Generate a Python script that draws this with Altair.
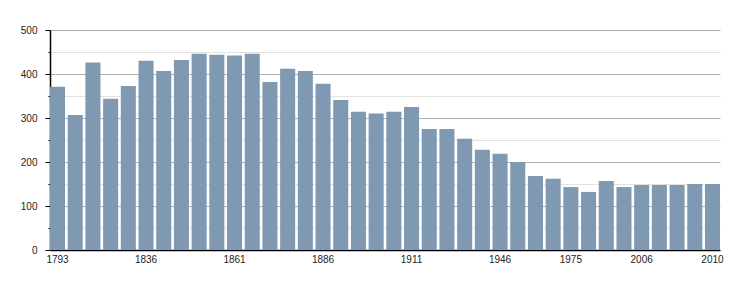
import altair as alt
import pandas as pd

years = ["1793", "1800", "1806", "1821", "1831", "1836", "1841", "1846", "1851", "1856",
         "1861", "1866", "1872", "1876", "1881", "1886", "1891", "1896", "1901", "1906",
         "1911", "1921", "1926", "1931", "1936", "1946", "1954", "1962", "1968", "1975",
         "1982", "1990", "1999", "2006", "2007", "2008", "2009", "2010"]
population = [371, 307, 426, 344, 373, 430, 407, 432, 446, 444,
              442, 446, 382, 412, 407, 378, 341, 314, 310, 314,
              325, 275, 275, 253, 228, 219, 200, 168, 162, 143,
              132, 157, 143, 148, 148, 148, 150, 150]
shown_years = ["1793", "1836", "1861", "1886", "1911", "1946", "1975", "2006", "2010"]
y_ticks = [0, 50, 100, 150, 200, 250, 300, 350, 400, 450, 500]

df = pd.DataFrame({"year": years, "pop": population})

chart = alt.Chart(df).mark_bar(color="#7f99b3").encode(
    x=alt.X("year:N", sort=None, title=None,
            scale=alt.Scale(paddingInner=0.15, paddingOuter=0),
            axis=alt.Axis(values=shown_years, labelAngle=0, ticks=False, grid=False,
                          domainColor="#000000", domainWidth=1.5, labelFont="Liberation Sans",
                          labelFontSize=10, labelColor="#222222", labelPadding=4)),
    y=alt.Y("pop:Q", title=None,
            scale=alt.Scale(domain=[0, 500], nice=False),
            axis=alt.Axis(values=y_ticks, domainColor="#000000", domainWidth=1.5,
                          tickColor="#000000",
                          tickSize={"condition": {"test": "datum.value % 100 === 0", "value": 5}, "value": 2},
                          gridColor={"condition": {"test": "datum.value % 100 === 0", "value": "#b0b0b0"}, "value": "#e2e2e2"},
                          gridWidth=1,
                          labelExpr="datum.value % 100 === 0 ? datum.label : ''",
                          labelFont="Liberation Sans", labelFontSize=10, labelColor="#222222",
                          labelPadding=8)),
).properties(
    width=670, height=220,
    autosize=alt.AutoSizeParams(type="none"),
    padding={"left": 50, "top": 30, "right": 30, "bottom": 50},
).configure_view(stroke=None)

chart.save("out.html", embed_options={"renderer": "svg", "actions": False})
